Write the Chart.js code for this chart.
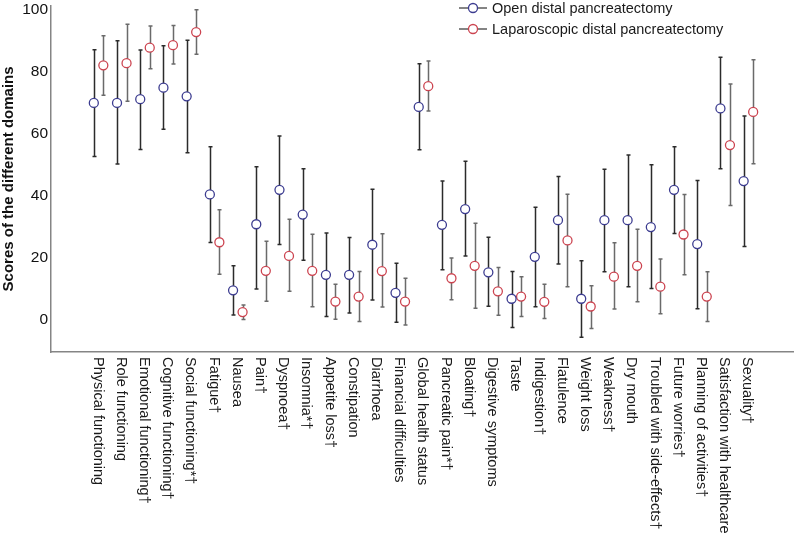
<!DOCTYPE html>
<html>
<head>
<meta charset="utf-8">
<script src="https://cdn.jsdelivr.net/npm/chart.js@4.4.0/dist/chart.umd.min.js"></script>
<style>
    html, body { margin: 0; padding: 0; background: #fff; }
    #contenedor { width: 799px; height: 536px; }
</style>
</head>
<body>
<div id="contenedor"><canvas id="grafica" width="799" height="536"></canvas></div>
<script>
// Datos
const categorias = [
    "Physical functioning", "Role functioning", "Emotional functioning\u2020", "Cognitive functioning\u2020",
    "Social functioning*\u2020", "Fatigue\u2020", "Nausea", "Pain\u2020", "Dyspnoea\u2020", "Insomnia*\u2020",
    "Appetite loss\u2020", "Constipation", "Diarrhoea", "Financial difficulties", "Global health status",
    "Pancreatic pain*\u2020", "Bloating\u2020", "Digestive symptoms", "Taste", "Indigestion\u2020",
    "Flatulence", "Weight loss", "Weakness\u2020", "Dry mouth", "Troubled with side-effects\u2020",
    "Future worries\u2020", "Planning of activities\u2020", "Satisfaction with healthcare", "Sexuality\u2020"
];

const openMedia = [70.0, 70.0, 71.2, 74.9, 72.1, 40.5, 9.6, 30.9, 42.0, 34.0, 14.6, 14.6, 24.3, 8.8, 68.7, 30.7, 35.8, 15.4, 6.9, 20.4, 32.2, 6.9, 32.2, 32.2, 30.0, 42.0, 24.5, 68.2, 44.8];
const openAlto  = [87.1, 90.0, 87.0, 88.4, 90.2, 55.9, 17.5, 49.4, 59.3, 48.8, 28.1, 26.6, 42.2, 18.3, 82.6, 44.8, 51.2, 26.7, 15.7, 36.4, 46.3, 19.1, 48.6, 53.2, 50.1, 55.9, 45.0, 84.7, 65.8];
const openBajo  = [52.7, 50.3, 55.0, 61.5, 53.9, 25.0, 1.7, 10.0, 24.4, 19.3, 1.2, 2.3, 6.5, -0.7, 54.9, 16.2, 20.7, 4.5, -2.4, 4.3, 18.1, -5.5, 15.6, 10.8, 10.2, 27.9, 3.7, 48.8, 23.7];

const lapMedia = [82.1, 82.8, 87.8, 88.6, 92.8, 25.1, 2.6, 15.9, 20.7, 15.9, 6.0, 7.6, 15.8, 6.0, 75.4, 13.5, 17.5, 9.3, 7.6, 5.9, 25.7, 4.4, 14.0, 17.5, 10.8, 27.6, 7.6, 56.4, 67.1];
const lapAlto  = [91.6, 95.3, 94.8, 94.9, 100.0, 35.6, 4.9, 25.4, 32.5, 27.7, 11.6, 15.7, 27.8, 13.5, 83.5, 20.0, 31.2, 17.0, 14.0, 11.6, 40.6, 11.1, 24.9, 29.3, 19.7, 40.5, 15.6, 76.1, 83.9];
const lapBajo  = [72.5, 70.5, 81.0, 82.5, 85.7, 14.8, 0.2, 6.1, 9.3, 4.3, 0.3, -0.4, 4.2, -1.6, 67.4, 6.6, 3.8, 1.6, 1.2, 0.5, 10.8, -2.7, 3.6, 5.9, 2.1, 14.6, -0.4, 36.9, 50.4];

const ticksY = [0, 20, 40, 60, 80, 100];
const nombresSeries = ["Open distal pancreatectomy", "Laparoscopic distal pancreatectomy"];

const FUENTE = "'Liberation Sans', Arial, Helvetica, sans-serif";
const desplazamiento = 0.205;

function puntos(medias, off) {
    return medias.map((v, i) => ({ x: i + off, y: v }));
}

// barras de error dibujadas con las escalas del grafico
const barrasError = {
    id: 'barrasError',
    beforeDatasetsDraw(chart) {
        const ctx = chart.ctx;
        const xs = chart.scales.x, ys = chart.scales.y;
        const series = [
            { bajo: openBajo, alto: openAlto, off: -desplazamiento, color: '#2b2b2b' },
            { bajo: lapBajo, alto: lapAlto, off: desplazamiento, color: '#6a6a6a' }
        ];
        ctx.save();
        ctx.lineWidth = 1.5;
        series.forEach(s => {
            ctx.strokeStyle = s.color;
            s.bajo.forEach((b, i) => {
                const x = Math.round(xs.getPixelForValue(i + s.off)) + 0.5;
                const y1 = ys.getPixelForValue(b);
                const y2 = ys.getPixelForValue(s.alto[i]);
                ctx.beginPath();
                ctx.moveTo(x, y1); ctx.lineTo(x, y2);
                ctx.moveTo(x - 2, y1); ctx.lineTo(x + 2, y1);
                ctx.moveTo(x - 2, y2); ctx.lineTo(x + 2, y2);
                ctx.stroke();
            });
        });
        ctx.restore();
    }
};

// etiquetas verticales del eje x (leidas de arriba hacia abajo)
const etiquetasX = {
    id: 'etiquetasX',
    afterDraw(chart) {
        const ctx = chart.ctx;
        const xs = chart.scales.x;
        const y0 = chart.chartArea.bottom + 5;
        ctx.save();
        ctx.font = '14.5px ' + FUENTE;
        ctx.fillStyle = '#1a1a1a';
        ctx.textAlign = 'left';
        ctx.textBaseline = 'middle';
        categorias.forEach((c, i) => {
            const x = xs.getPixelForValue(i) - 1;
            ctx.save();
            ctx.translate(x, y0);
            ctx.rotate(Math.PI / 2);
            ctx.fillText(c, 0, 0);
            ctx.restore();
        });
        ctx.restore();
    }
};

// leyenda arriba a la derecha
const leyenda = {
    id: 'leyenda',
    afterDraw(chart) {
        const ctx = chart.ctx;
        ctx.save();
        ctx.font = '14.5px ' + FUENTE;
        ctx.textAlign = 'left';
        ctx.textBaseline = 'middle';
        chart.data.datasets.forEach((d, k) => {
            const y = 8 + k * 21;
            ctx.strokeStyle = '#333';
            ctx.lineWidth = 1.2;
            ctx.beginPath();
            ctx.moveTo(459, y); ctx.lineTo(487, y);
            ctx.stroke();
            ctx.beginPath();
            ctx.arc(473, y, 4.5, 0, Math.PI * 2);
            ctx.fillStyle = '#fff';
            ctx.fill();
            ctx.strokeStyle = d.borderColor;
            ctx.lineWidth = 1.3;
            ctx.stroke();
            ctx.fillStyle = '#1a1a1a';
            ctx.fillText(d.label, 492, y + 1);
        });
        ctx.restore();
    }
};

const ctxGrafica = document.getElementById('grafica').getContext('2d');
const grafica = new Chart(ctxGrafica, {
    type: 'scatter',
    data: {
        datasets: [{
            label: nombresSeries[0],
            data: puntos(openMedia, -desplazamiento),
            borderColor: '#3c3c90',
            backgroundColor: '#ffffff',
            pointRadius: 4.5,
            pointBorderWidth: 1.3
        }, {
            label: nombresSeries[1],
            data: puntos(lapMedia, desplazamiento),
            borderColor: '#cc4450',
            backgroundColor: '#ffffff',
            pointRadius: 4.5,
            pointBorderWidth: 1.3
        }]
    },
    options: {
        responsive: false,
        animation: false,
        layout: { padding: { top: 0, right: 2, left: 0, bottom: 0 } },
        plugins: {
            legend: { display: false },
            tooltip: { enabled: false }
        },
        scales: {
            x: {
                type: 'linear',
                min: -2.05,
                max: 29.93,
                grid: { display: false },
                border: { display: true, color: '#858585', width: 1.5 },
                ticks: { display: false },
                afterFit: function (scale) {
                    scale.height = 184;
                    scale.paddingLeft = 0;
                    scale.paddingRight = 0;
                }
            },
            y: {
                min: -10.26,
                max: 101.28,
                grid: { display: false, drawTicks: false },
                border: { display: true, color: '#858585', width: 1.5 },
                ticks: {
                    padding: 3,
                    color: '#111',
                    font: { size: 15.5, family: FUENTE }
                },
                afterBuildTicks: function (scale) {
                    scale.ticks = ticksY.map(v => ({ value: v }));
                },
                afterFit: function (scale) {
                    scale.width = 51;
                    scale.paddingTop = 0;
                    scale.paddingBottom = 0;
                },
                title: {
                    display: true,
                    text: 'Scores of the different domains',
                    color: '#111',
                    padding: { top: 0, bottom: 0 },
                    font: { size: 15, weight: 'bold', family: FUENTE }
                }
            }
        }
    },
    plugins: [barrasError, etiquetasX, leyenda]
});
</script>
</body>
</html>
